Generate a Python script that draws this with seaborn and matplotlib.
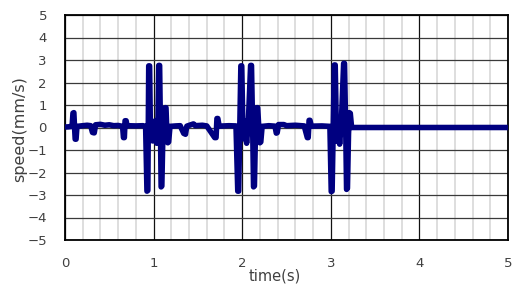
import numpy as np
import pandas as pd
import matplotlib
matplotlib.use("Agg")
import matplotlib.pyplot as plt
import seaborn as sns

# ---- data ----
time_s = [0.00, 0.04, 0.08, 0.09, 0.100, 0.108, 0.115, 0.125, 0.135, 0.20, 0.25, 0.29,
          0.31, 0.33, 0.345, 0.40, 0.45, 0.50, 0.55, 0.60, 0.65, 0.66, 0.67, 0.678,
          0.69, 0.70, 0.80, 0.88, 0.91, 0.925, 0.935, 0.945, 0.955, 0.965, 0.975, 0.99,
          1.00, 1.02, 1.035, 1.05, 1.058, 1.068, 1.078, 1.085, 1.093, 1.105, 1.12, 1.13,
          1.14, 1.15, 1.16, 1.17, 1.185, 1.25, 1.30, 1.34, 1.36, 1.375, 1.45, 1.47,
          1.55, 1.60, 1.69, 1.705, 1.715, 1.725, 1.74, 1.85, 1.93, 1.95, 1.96, 1.985,
          1.995, 2.01, 2.03, 2.05, 2.07, 2.095, 2.105, 2.12, 2.128, 2.138, 2.15, 2.165,
          2.175, 2.19, 2.20, 2.21, 2.225, 2.30, 2.37, 2.385, 2.395, 2.41, 2.47, 2.50,
          2.60, 2.70, 2.735, 2.745, 2.755, 2.765, 2.78, 2.90, 2.99, 3.005, 3.015, 3.04,
          3.05, 3.065, 3.08, 3.10, 3.12, 3.145, 3.155, 3.17, 3.178, 3.188, 3.20, 3.21,
          3.22, 3.235, 3.30, 4.00, 5.00]
speed_mm_s = [0.02, 0.03, 0.05, 0.64, 0.66, 0.0, -0.52, -0.52, 0.05, 0.08, 0.10, 0.08,
              -0.22, -0.24, 0.12, 0.14, 0.10, 0.12, 0.08, 0.09, 0.05, -0.45, -0.45, 0.30,
              0.30, 0.08, 0.07, 0.08, 0.05, -2.83, -2.80, 2.74, 2.74, -0.5, 0.3, -0.6,
              -0.4, 0.3, -0.7, 0.5, 2.76, 2.76, -0.3, -2.64, -2.60, -0.3, 0.3, 0.88,
              0.88, -0.2, -0.68, -0.64, 0.05, 0.07, 0.08, -0.26, -0.30, 0.06, 0.16, 0.08,
              0.10, 0.07, -0.45, -0.45, 0.40, 0.40, 0.06, 0.08, 0.07, -2.83, -2.83, 2.74,
              2.74, -0.5, 0.3, -0.7, 0.3, 2.76, 2.76, -0.5, -2.64, -2.60, -0.2, 0.88,
              0.88, -0.2, -0.68, -0.64, 0.05, 0.08, 0.06, -0.25, -0.23, 0.13, 0.13, 0.08,
              0.10, 0.07, -0.45, -0.45, 0.32, 0.32, 0.06, 0.07, 0.05, -2.85, -2.83, 2.78,
              2.78, -0.6, 0.3, -0.74, 0.3, 2.85, 2.85, -0.5, -2.75, -2.70, -0.3, 0.66,
              0.63, 0.0, 0.0, 0.0, 0.0]

x_ticks = [0, 1, 2, 3, 4, 5]
y_ticks = [-5, -4, -3, -2, -1, 0, 1, 2, 3, 4, 5]

df = pd.DataFrame({"time": time_s, "speed": speed_mm_s})

sns.set_style("white")
plt.rcParams["font.family"] = ["DejaVu Sans"]

fig = plt.figure(figsize=(5.28, 3.0), dpi=100)
ax = fig.add_axes([0.1231, 0.2, 0.839, 0.75])

sns.lineplot(data=df, x="time", y="speed", ax=ax, color="#000080",
             linewidth=4.0, estimator=None, sort=False,
             solid_joinstyle="round", solid_capstyle="round", zorder=3)

ax.set_xlim(0, 5)
ax.set_ylim(-5, 5)
ax.set_xticks(x_ticks)
ax.set_yticks(y_ticks)
ax.set_xticks(np.arange(0, 5.01, 0.2), minor=True)
ax.set_axisbelow(True)
ax.grid(which="minor", axis="x", color="#d4d4d4", linewidth=1.1)
ax.grid(which="major", axis="x", color="#111111", linewidth=0.9)
ax.grid(which="major", axis="y", color="#3a3a3a", linewidth=0.9)

for s in ax.spines.values():
    s.set_visible(True)
    s.set_color("black")
    s.set_linewidth(1.3)

ax.tick_params(axis="both", which="both", length=0, labelsize=9.5, labelcolor="#404040")
ax.tick_params(axis="x", pad=12)
ax.tick_params(axis="y", pad=13)

ax.set_xlabel("time(s)", fontsize=10.5, color="#404040")
ax.set_ylabel("speed(mm/s)", fontsize=11.5, color="#404040")
ax.xaxis.set_label_coords(0.474, -0.125)
ax.yaxis.set_label_coords(-0.086, 0.495)

fig.savefig("out.png", dpi=100)
